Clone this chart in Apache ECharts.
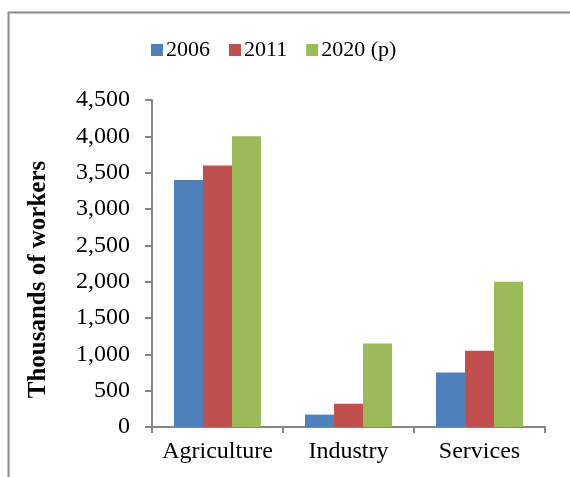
<!DOCTYPE html>
<html>
<head>
<meta charset="utf-8">
<script src="https://cdn.jsdelivr.net/npm/echarts@6/dist/echarts.min.js"></script>
<style>
  html, body { margin: 0; padding: 0; background: #fff; }
  #chart { width: 570px; height: 477px; }
</style>
</head>
<body>
<div id="chart"></div>
<script>
var sectors = ["Agriculture", "Industry", "Services"];
var years = ["2006", "2011", "2020 (p)"];
var workers2006 = [3400, 170, 750];
var workers2011 = [3600, 320, 1050];
var workers2020 = [4000, 1150, 2000];
var colors = ["#4F81BD", "#C0504D", "#9BBB59"];

var font = "'Liberation Serif', 'Times New Roman', serif";
var axisGray = "#868686";

var chart = echarts.init(document.getElementById("chart"), null, { renderer: "canvas" });

function bar(name, values, color) {
  return {
    name: name,
    type: "bar",
    data: values,
    barGap: "0%",
    barCategoryGap: "33.6%",
    itemStyle: { color: color },
    animation: false
  };
}

chart.setOption({
  animation: false,
  color: colors,
  textStyle: { fontFamily: font },
  graphic: [{
    type: "rect",
    shape: { x: 8.5, y: 12.5, width: 700, height: 700 },
    style: { fill: null, stroke: "#8a8a8a", lineWidth: 2 },
    silent: true
  }],
  legend: {
    left: 146,
    top: 34,
    itemWidth: 12,
    itemHeight: 12,
    itemGap: 19,
    icon: "rect",
    textStyle: { fontFamily: font, fontSize: 22, color: "#000", padding: [0, 0, 0, -2] },
    data: years
  },
  grid: { left: 152, right: 25, top: 100, bottom: 50 },
  xAxis: {
    type: "category",
    data: sectors,
    axisLine: { lineStyle: { color: axisGray, width: 2 } },
    axisTick: { show: true, length: 6, lineStyle: { color: axisGray, width: 2 } },
    axisLabel: { interval: 0, margin: 13, fontFamily: font, fontSize: 24, color: "#000" }
  },
  yAxis: {
    type: "value",
    min: 0,
    max: 4500,
    interval: 500,
    name: "Thousands of workers",
    nameLocation: "middle",
    nameGap: 101,
    nameTextStyle: {
      fontFamily: font, fontSize: 25, fontWeight: "bold", color: "#000",
      padding: [0, 32, 0, 0]
    },
    axisLine: { show: true, lineStyle: { color: axisGray, width: 2 } },
    axisTick: { show: true, length: 7, lineStyle: { color: axisGray, width: 2 } },
    splitLine: { show: false },
    axisLabel: {
      margin: 22, fontFamily: font, fontSize: 24, color: "#000",
      formatter: function (v) { return v.toLocaleString("en-US"); }
    }
  },
  series: [
    bar(years[0], workers2006, colors[0]),
    bar(years[1], workers2011, colors[1]),
    bar(years[2], workers2020, colors[2])
  ]
});
</script>
</body>
</html>
